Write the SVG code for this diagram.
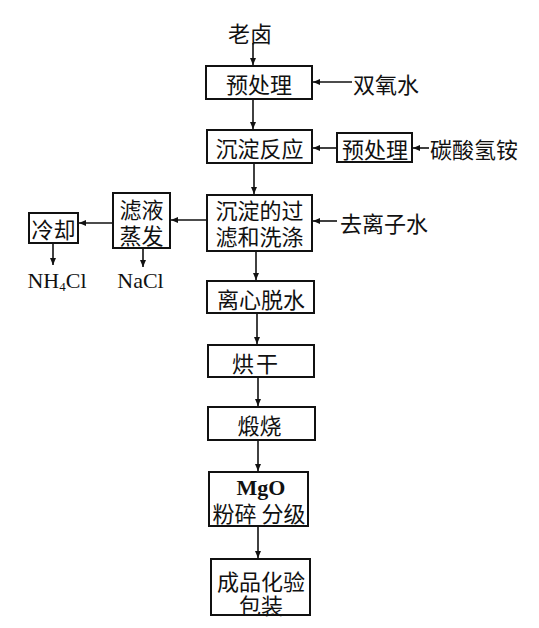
<svg xmlns="http://www.w3.org/2000/svg" width="539" height="628" viewBox="0 0 539 628">
<style>
.box{fill:#fff;stroke:#111;stroke-width:2}
.t{font-family:"Noto Sans CJK SC","Liberation Serif",serif;font-size:22px;fill:#111;text-anchor:middle;dominant-baseline:central}
.ts{font-family:"Noto Sans CJK SC","Liberation Serif",serif;font-size:22px;fill:#111;text-anchor:start;dominant-baseline:central}
.lat{font-family:"Liberation Serif","Times New Roman",serif;font-size:22px;fill:#111;text-anchor:middle}
.c{stroke:#111;stroke-width:1.6;fill:none;marker-end:url(#ah)}
</style>
<defs>
<marker id="ah" markerUnits="userSpaceOnUse" markerWidth="8" markerHeight="6" refX="7" refY="3" orient="auto">
<path d="M0,0 L7,3 L0,6 z" fill="#111"/>
</marker>
</defs>
<rect width="539" height="628" fill="#fff"/>
<g id="connectors">
<path class="c" d="M253,43 V65"/>
<path class="c" d="M352,82 H313"/>
<path class="c" d="M253,99 V129"/>
<path class="c" d="M337,148 H313"/>
<path class="c" d="M429,148 H413"/>
<path class="c" d="M254,163 V194"/>
<path class="c" d="M337,221 H313"/>
<path class="c" d="M207,220 H171"/>
<path class="c" d="M113,223 H79"/>
<path class="c" d="M53,243 V265"/>
<path class="c" d="M143,248 V267"/>
<path class="c" d="M256,251 V280"/>
<path class="c" d="M257,313 V344"/>
<path class="c" d="M258,377 V406"/>
<path class="c" d="M258,440 V471"/>
<path class="c" d="M258,526 V558"/>
</g>
<g id="n-laolu"><text class="t" x="250" y="32" font-size="21">老卤</text></g>
<g id="n-yuchuli1"><rect class="box" x="206" y="66" width="106" height="33"/><text class="t" x="259" y="82.5">预处理</text></g>
<g id="n-shuangyangshui"><text class="ts" x="353" y="83">双氧水</text></g>
<g id="n-chendianfanying"><rect class="box" x="207" y="130" width="105" height="33"/><text class="t" x="259.5" y="147" font-size="23">沉淀反应</text></g>
<g id="n-yuchuli2"><rect class="box" x="337" y="133" width="75" height="29"/><text class="t" x="375" y="148">预处理</text></g>
<g id="n-tansuanqingan"><text class="ts" x="430" y="148">碳酸氢铵</text></g>
<g id="n-guolv"><rect class="box" x="207" y="195" width="105" height="56"/><text class="t" x="259.5" y="209" font-size="23">沉淀的过</text><text class="t" x="259.5" y="235" font-size="23">滤和洗涤</text></g>
<g id="n-quliziishui"><text class="ts" x="340" y="222">去离子水</text></g>
<g id="n-lvye"><rect class="box" x="113" y="193" width="57" height="55"/><text class="t" x="141.5" y="207.5" font-size="24">滤液</text><text class="t" x="141.5" y="233.5" font-size="24">蒸发</text></g>
<g id="n-lengque"><rect class="box" x="29" y="213" width="49" height="30"/><text class="t" x="53.5" y="228">冷却</text></g>
<g id="n-nh4cl"><text class="lat" x="57" y="288">NH<tspan font-size="13" dy="3">4</tspan><tspan dy="-3">Cl</tspan></text></g>
<g id="n-nacl"><text class="lat" x="140.5" y="288">NaCl</text></g>
<g id="n-lixin"><rect class="box" x="207" y="281" width="107" height="32"/><text class="t" x="261" y="297.5">离心脱水</text></g>
<g id="n-honggan"><rect class="box" x="208" y="345" width="106" height="32"/><text class="t" x="256" y="361.5" letter-spacing="2">烘干</text></g>
<g id="n-duanshao"><rect class="box" x="208" y="407" width="107" height="33"/><text class="t" x="259.5" y="424">煅烧</text></g>
<g id="n-mgo"><rect class="box" x="209" y="472" width="99" height="54"/><text class="lat" x="261" y="495" font-size="23" font-weight="bold">MgO</text><text class="t" x="259" y="512">粉碎 分级</text></g>
<g id="n-chengpin"><rect class="box" x="211" y="559" width="99" height="56"/><text class="t" x="261" y="580">成品化验</text><text class="t" x="261" y="604">包装</text></g>
</svg>
